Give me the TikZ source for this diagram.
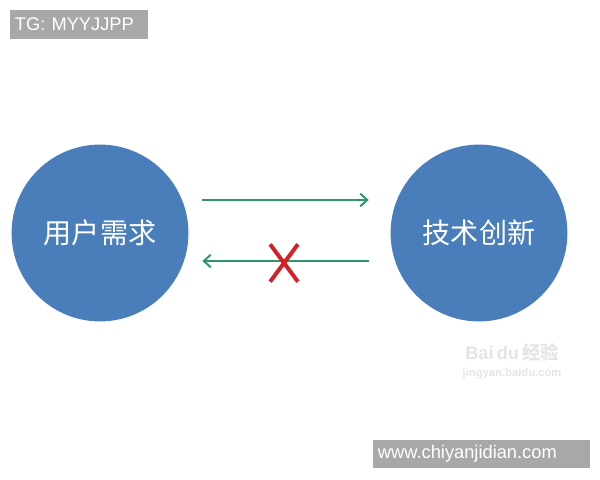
\documentclass[tikz,border=0pt]{standalone}
\usepackage{fontspec}
\setmainfont{Liberation Sans}
\newfontfamily\cjk{Noto Sans CJK SC}
\usetikzlibrary{arrows.meta}

\definecolor{circblue}{RGB}{74,126,187}
\definecolor{flowgreen}{RGB}{48,150,104}
\definecolor{crossred}{RGB}{214,32,40}
\definecolor{taggray}{RGB}{168,168,168}

\tikzset{
  topic/.style={circle, fill=circblue, inner sep=0pt, minimum size=4.42cm,
    text=white, font=\cjk\fontsize{20}{24}\selectfont},
  tagbox/.style={fill=taggray, text=white, inner xsep=0.125cm, inner ysep=0pt,
    minimum height=0.72cm, align=left, font=\fontsize{13}{15}\selectfont},
  flow/.style={draw=flowgreen, line width=1.4pt, -{Straight Barb[length=5pt,width=9pt]}},
  crossline/.style={draw=crossred, line width=2.8pt},
  wmark/.style={text=black!10, font=\fontsize{13}{15}\selectfont\bfseries}
}

\begin{document}
\begin{tikzpicture}[x=0.025cm,y=-0.025cm]
  \fill[white] (0,0) rectangle (600,480);
  \useasboundingbox (0,0) rectangle (600,480);

  % Define nodes
  \node[tagbox, text width=3.2cm] (tg) at (79,24.5) {TG: MYYJJPP};
  \node[topic] (user) at (100,233) {用户需求};
  \node[topic] (tech) at (479,233) {技术创新};
  \node[minimum width=0.68cm, minimum height=0.92cm, inner sep=0pt] (cross) at (284,263) {};
  \node[wmark] (baidu) at (512,352) {Bai\,du\,{\cjk 经验}};
  \node[wmark, font=\fontsize{8}{10}\selectfont\bfseries] (baiduurl) at (512,374) {jingyan.baidu.com};
  \node[tagbox, text width=5.175cm] (site) at (481.5,454) {www.chiyanjidian.com};

  % Draw edges
  \draw[flow, shorten <=0.34cm, shorten >=0.54cm]
    ([yshift=0.825cm]user.east) -- ([yshift=0.825cm]tech.west);
  \draw[flow, shorten <=0.54cm, shorten >=0.34cm]
    ([yshift=-0.7cm]tech.west) -- ([yshift=-0.7cm]user.east);
  \draw[crossline] (cross.north west) -- (cross.south east);
  \draw[crossline] (cross.north east) -- (cross.south west);
\end{tikzpicture}
\end{document}
